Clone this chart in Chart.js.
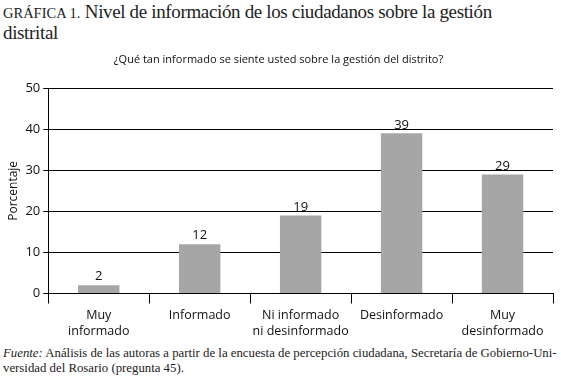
<!DOCTYPE html>
<html>
<head>
<meta charset="utf-8">
<script src="https://cdn.jsdelivr.net/npm/chart.js@4/dist/chart.umd.min.js"></script>
<style>
  body { margin: 0; width: 561px; height: 381px; background: #fff; position: relative; overflow: hidden; }
  #titulo { position: absolute; left: 3px; top: 2px; width: 556px; font-family: "Liberation Serif", serif; font-size: 19px; line-height: 20px; color: #222; letter-spacing: -0.35px; }
  #titulo .sc { font-size: 14.5px; letter-spacing: 0; }
  #wrap { position: absolute; left: 0; top: 51px; width: 561px; height: 294px; }
  #fuente { position: absolute; left: 3px; top: 346px; width: 560px; font-family: "Liberation Serif", serif; font-size: 12.8px; line-height: 15px; color: #222; white-space: nowrap; }
</style>
</head>
<body>
<div id="titulo"><span class="sc">GRÁFICA 1.</span> Nivel de información de los ciudadanos sobre la gestión<br>distrital</div>
<div id="wrap"><canvas id="grafica"></canvas></div>
<div id="fuente"><i>Fuente:</i> Análisis de las autoras a partir de la encuesta de percepción ciudadana, Secretaría de Gobierno-Uni-<br>versidad del Rosario (pregunta 45).</div>
<script>
// Categorías y valores (porcentaje)
const categorias = [
    ['Muy', 'informado'],
    'Informado',
    ['Ni informado', 'ni desinformado'],
    'Desinformado',
    ['Muy', 'desinformado']
];
const porcentajes = [2, 12, 19, 39, 29];
const ticksY = [0, 10, 20, 30, 40, 50];

const fuente = "'Open Sans', sans-serif";

// Etiquetas de valor sobre cada barra
const etiquetas = {
    id: 'etiquetas',
    afterDatasetsDraw(chart) {
        const ctx = chart.ctx;
        const meta = chart.getDatasetMeta(0);
        ctx.save();
        ctx.font = '13px ' + fuente;
        ctx.fillStyle = '#111';
        ctx.textAlign = 'center';
        ctx.textBaseline = 'bottom';
        meta.data.forEach((bar, i) => {
            ctx.fillText(porcentajes[i], bar.x, bar.y - 2);
        });
        ctx.restore();
    }
};

const ctx = document.getElementById('grafica').getContext('2d');
new Chart(ctx, {
    type: 'bar',
    data: {
        labels: categorias,
        datasets: [{
            data: porcentajes,
            backgroundColor: '#a6a6a6',
            borderWidth: 0,
            categoryPercentage: 1,
            barPercentage: 0.41
        }]
    },
    options: {
        responsive: true,
        maintainAspectRatio: false,
        animation: false,
        layout: { padding: { left: 4, right: 8, top: 0, bottom: 1 } },
        plugins: {
            legend: { display: false },
            tooltip: { enabled: false },
            title: {
                display: true,
                text: '¿Qué tan informado se siente usted sobre la gestión del distrito?',
                font: { family: fuente, size: 11, weight: 'normal' },
                color: '#111',
                padding: { top: 2, bottom: 22 }
            }
        },
        scales: {
            x: {
                grid: { drawOnChartArea: false, drawTicks: true, tickLength: 10, color: '#000', offset: true },
                border: { color: '#000', width: 1 },
                ticks: { font: { family: fuente, size: 12.5, lineHeight: 1.3 }, color: '#111', padding: 4, maxRotation: 0, autoSkip: false }
            },
            y: {
                min: 0,
                max: 50,
                afterBuildTicks: axis => { axis.ticks = ticksY.map(v => ({ value: v })); },
                grid: { color: '#000', lineWidth: 1, tickLength: 5 },
                border: { color: '#000', width: 1 },
                ticks: { font: { family: fuente, size: 13 }, color: '#111', padding: 3 },
                title: { display: true, text: 'Porcentaje', font: { family: fuente, size: 12 }, color: '#111', padding: 2 }
            }
        }
    },
    plugins: [etiquetas]
});
</script>
</body>
</html>
